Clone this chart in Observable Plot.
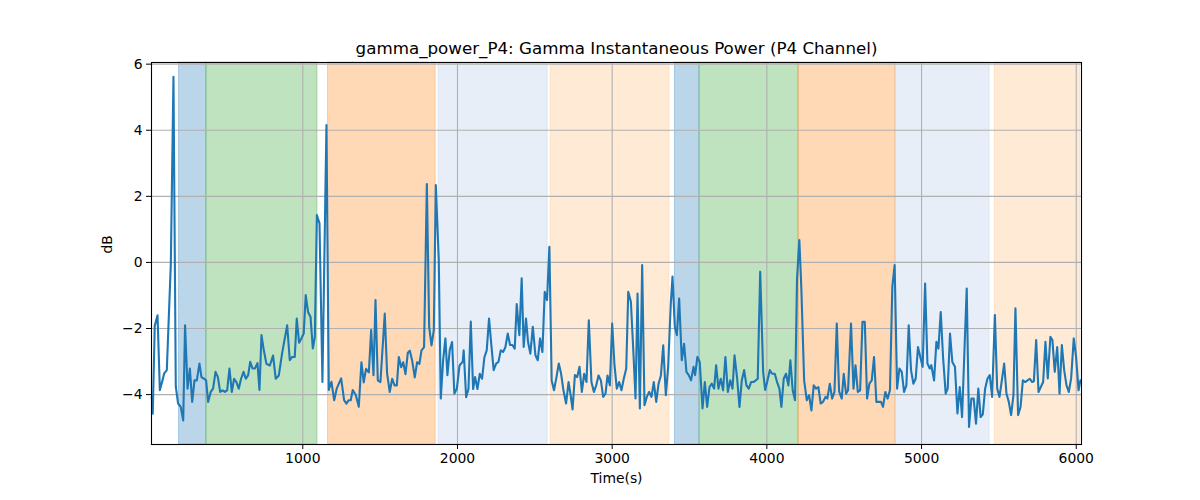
<!DOCTYPE html>
<html>
<head>
<meta charset="utf-8">
<script src="https://cdn.jsdelivr.net/npm/d3@7"></script>
<script src="https://cdn.jsdelivr.net/npm/@observablehq/plot@0.6"></script>
<style>
  html, body { margin: 0; padding: 0; background: #fff; }
  #chart svg { display: block; }
</style>
</head>
<body>
<div id="chart"></div>
<script>
const times = [24,30,43,61,76,93,104,121,147,164,179,194,211,227,239,255,270,285,300,315,332,345,362,375,388,405,420,436,451,466,481,496,511,526,541,556,571,586,601,617,632,647,660,675,690,707,720,733,748,765,787,808,825,845,866,899,916,931,948,961,976,991,1006,1019,1034,1050,1065,1078,1091,1108,1127,1153,1168,1185,1203,1220,1248,1267,1282,1297,1310,1323,1343,1362,1379,1394,1409,1427,1442,1457,1470,1485,1502,1530,1545,1562,1578,1593,1608,1621,1636,1649,1664,1679,1692,1707,1724,1739,1754,1767,1784,1802,1817,1832,1847,1860,1879,1892,1907,1922,1935,1950,1965,1980,1996,2013,2034,2040,2056,2071,2086,2101,2114,2129,2144,2159,2174,2189,2204,2219,2234,2250,2265,2280,2295,2310,2325,2340,2355,2370,2383,2400,2415,2428,2443,2456,2471,2487,2504,2519,2534,2549,2564,2579,2594,2609,2624,2640,2655,2670,2685,2702,2718,2731,2744,2759,2774,2789,2804,2819,2834,2849,2866,2882,2897,2912,2927,2942,2957,2970,2985,3000,3015,3030,3045,3060,3075,3091,3104,3121,3136,3151,3164,3179,3194,3209,3224,3239,3254,3269,3285,3300,3315,3330,3347,3362,3379,3390,3405,3418,3433,3450,3465,3480,3495,3510,3526,3536,3551,3566,3584,3599,3614,3629,3644,3659,3672,3687,3702,3717,3732,3748,3763,3778,3791,3808,3823,3838,3853,3868,3883,3898,3913,3928,3941,3957,3976,3989,4004,4019,4034,4051,4066,4081,4094,4109,4124,4139,4152,4167,4182,4195,4210,4223,4241,4258,4273,4288,4303,4318,4333,4348,4363,4379,4391,4407,4422,4437,4452,4467,4484,4497,4512,4525,4544,4560,4573,4588,4603,4618,4633,4648,4663,4678,4693,4708,4723,4738,4751,4766,4781,4796,4811,4826,4842,4857,4872,4887,4902,4917,4932,4947,4962,4977,4992,5007,5023,5038,5053,5063,5081,5096,5109,5124,5139,5156,5169,5184,5199,5216,5232,5247,5262,5277,5292,5307,5322,5337,5352,5367,5382,5396,5411,5426,5441,5456,5474,5489,5504,5519,5534,5549,5564,5579,5594,5607,5624,5640,5655,5670,5685,5700,5715,5726,5741,5756,5771,5786,5801,5816,5833,5846,5861,5877,5892,5907,5922,5937,5952,5967,5984,5999,6015,6027];

const powerDb = [-4.07,-4.58,-1.92,-1.60,-3.87,-3.57,-3.36,-3.26,-0.03,5.62,-3.76,-4.27,-4.37,-4.78,-1.90,-3.82,-3.21,-4.22,-3.57,-3.57,-3.06,-3.47,-3.52,-3.57,-4.22,-3.92,-3.82,-3.31,-3.47,-3.92,-3.87,-3.92,-3.87,-3.21,-3.92,-3.52,-3.62,-3.82,-3.52,-3.31,-3.52,-3.41,-3.01,-3.21,-3.21,-3.05,-3.86,-2.20,-2.66,-3.07,-3.12,-2.82,-3.52,-3.42,-2.76,-1.90,-2.96,-2.86,-2.86,-1.70,-2.43,-2.30,-2.15,-0.99,-1.50,-1.65,-2.60,-2.25,1.43,1.18,-3.62,4.16,-3.86,-3.61,-4.17,-3.81,-3.51,-4.17,-4.27,-4.17,-4.17,-3.86,-4.02,-4.37,-3.02,-3.63,-3.22,-3.33,-2.05,-3.41,-1.14,-3.57,-3.62,-1.55,-3.36,-3.92,-3.52,-3.72,-3.72,-2.86,-3.17,-3.02,-3.38,-2.73,-2.67,-2.97,-3.48,-3.02,-3.07,-2.67,-2.56,2.37,-1.95,-2.51,-2.05,2.34,0.07,-4.12,-2.97,-2.30,-3.41,-2.65,-2.41,-3.97,-3.82,-3.12,-3.00,-2.66,-4.08,-3.83,-1.79,-3.83,-3.47,-3.83,-3.37,-3.52,-2.87,-2.66,-1.70,-2.50,-3.26,-3.06,-3.01,-2.66,-2.71,-2.56,-2.15,-2.50,-2.50,-2.61,-1.26,-2.20,-0.48,-2.56,-1.70,-2.40,-2.76,-1.95,-2.81,-2.96,-2.30,-2.71,-0.89,-1.14,0.47,-3.57,-3.87,-3.47,-3.06,-3.37,-3.87,-4.27,-3.62,-4.00,-4.45,-3.41,-3.47,-3.16,-3.92,-3.37,-3.62,-1.75,-3.62,-3.92,-3.72,-3.42,-3.57,-4.07,-3.97,-3.42,-3.72,-1.85,-3.11,-3.82,-3.62,-3.87,-3.52,-3.21,-0.89,-1.19,-2.60,-4.12,-0.94,-4.42,-0.08,-4.32,-4.07,-3.92,-4.07,-3.62,-4.22,-3.67,-3.42,-2.51,-4.02,-3.16,-1.24,-0.43,-1.95,-2.20,-1.09,-2.96,-2.46,-3.31,-3.41,-3.57,-3.16,-3.41,-2.86,-3.01,-4.42,-3.62,-4.37,-3.77,-3.67,-3.82,-3.11,-3.82,-3.52,-3.87,-2.86,-3.92,-3.57,-3.82,-2.81,-3.52,-4.37,-3.57,-3.26,-3.72,-3.82,-3.62,-3.62,-3.57,-3.52,-0.28,-3.31,-3.86,-3.57,-3.26,-3.37,-3.37,-3.62,-3.82,-4.37,-3.52,-3.37,-3.72,-2.96,-3.87,-4.17,-0.50,0.68,-0.80,-3.57,-4.17,-4.02,-4.48,-3.72,-3.82,-3.77,-4.27,-4.22,-4.07,-4.12,-3.67,-4.12,-3.92,-1.85,-3.90,-4.12,-3.37,-3.97,-3.87,-1.85,-3.82,-3.11,-3.92,-3.87,-1.80,-1.80,-4.12,-3.67,-3.57,-2.86,-4.22,-4.22,-4.22,-4.37,-3.92,-4.12,-3.86,-0.74,-0.08,-3.82,-3.21,-3.31,-3.92,-3.72,-1.90,-3.26,-3.67,-3.52,-2.56,-2.86,-3.16,-0.64,-3.06,-3.21,-3.11,-3.57,-2.40,-2.61,-1.50,-2.86,-3.97,-3.82,-2.15,-3.01,-3.16,-4.57,-3.77,-4.68,-2.71,-0.79,-4.98,-4.12,-4.12,-4.88,-3.82,-4.68,-4.60,-3.82,-3.52,-3.41,-4.07,-1.59,-3.82,-4.07,-3.57,-3.06,-3.97,-4.22,-4.62,-4.02,-1.39,-4.62,-4.37,-3.57,-3.62,-3.57,-3.52,-3.62,-3.60,-2.35,-3.92,-3.77,-3.62,-2.40,-3.51,-2.25,-2.35,-3.31,-2.56,-3.97,-2.50,-3.26,-3.72,-3.92,-3.51,-2.30,-2.86,-3.87,-3.57];

const bandStart = [200, 377, 1163, 1877, 2603, 3406, 3565, 4205, 4832, 5473];
const bandEnd   = [377, 1095, 1859, 2583, 3370, 3565, 4205, 4832, 5440, 6025];
const bandColor = ["#1f77b4", "#2ca02c", "#ff7f0e", "#aec7e8", "#ffbb78", "#1f77b4", "#2ca02c", "#ff7f0e", "#aec7e8", "#ffbb78"];

const xTicks = [1000, 2000, 3000, 4000, 5000, 6000];
const yTicks = [-4, -2, 0, 2, 4, 6];

const series = times.map((t, i) => ({t, v: powerDb[i]}));
const bands = bandStart.map((s, i) => ({s, e: bandEnd[i], c: bandColor[i]}));

const chart = Plot.plot({
  width: 1200,
  height: 500,
  marginLeft: 151,
  marginRight: 119,
  marginTop: 62,
  marginBottom: 56,
  style: {fontFamily: "DejaVu Sans, sans-serif", fontSize: "13.9px", color: "#000", background: "#fff"},
  x: {domain: [22, 6034], label: null},
  y: {domain: [-5.51, 6.05], label: null},
  marks: [
    Plot.rect(bands, {x1: "s", x2: "e", fill: "c", fillOpacity: 0.3, stroke: "c", strokeOpacity: 0.3, strokeWidth: 1}),
    Plot.gridX(xTicks, {stroke: "#b0b0b0", strokeOpacity: 1, strokeWidth: 1.1}),
    Plot.gridY(yTicks, {stroke: "#b0b0b0", strokeOpacity: 1, strokeWidth: 1.1}),
    Plot.line(series, {x: "t", y: "v", stroke: "#1f77b4", strokeWidth: 2.1, curve: "linear"}),
    Plot.frame({stroke: "#000", strokeWidth: 1.1}),
    Plot.axisX(xTicks, {tickSize: 5, tickPadding: 4, tickFormat: d3.format("d"), fontSize: 13.9, stroke: "#000"}),
    Plot.axisY(yTicks, {tickSize: 5, tickPadding: 4, tickFormat: d3.format("d"), fontSize: 13.9, stroke: "#000"}),
    Plot.text(["gamma_power_P4: Gamma Instantaneous Power (P4 Channel)"], {frameAnchor: "top", lineAnchor: "bottom", dy: -9, fontSize: 16.7, fill: "#000"}),
    Plot.text(["Time(s)"], {frameAnchor: "bottom", lineAnchor: "top", dy: 29, fontSize: 13.9, fill: "#000"}),
    Plot.text(["dB"], {frameAnchor: "left", rotate: -90, dx: -44, fontSize: 13.9, fill: "#000"})
  ]
});
document.getElementById("chart").appendChild(chart);
</script>
</body>
</html>
